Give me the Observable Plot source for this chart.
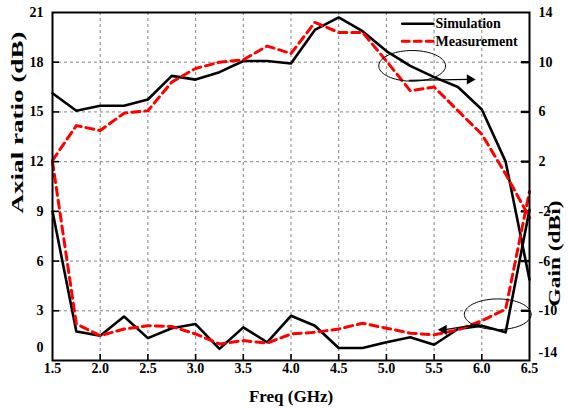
<!DOCTYPE html>
<html>
<head>
<meta charset="utf-8">
<script src="https://cdn.jsdelivr.net/npm/d3@7"></script>
<script src="https://cdn.jsdelivr.net/npm/@observablehq/plot@0.6"></script>
<style>
  html, body { margin: 0; padding: 0; background: #fff; }
  #chart { width: 568px; height: 408px; }
  #chart svg, #chart svg text { font-family: "Liberation Serif", "Times New Roman", serif !important; font-weight: bold; }
</style>
</head>
<body>
<div id="chart"></div>
<script>
// ---- data ----
const freq = [1.5, 1.75, 2.0, 2.25, 2.5, 2.75, 3.0, 3.25, 3.5, 3.75, 4.0, 4.25, 4.5, 4.75, 5.0, 5.25, 5.5, 5.75, 6.0, 6.25, 6.5];
const arSim = [9.0, 1.75, 1.5, 2.65, 1.35, 1.95, 2.2, 0.7, 2.0, 1.1, 2.7, 2.1, 0.75, 0.75, 1.1, 1.4, 0.95, 1.9, 2.1, 1.7, 9.1];
const arMeas = [12.0, 2.2, 1.5, 1.9, 2.1, 2.05, 1.6, 1.0, 1.2, 1.05, 1.6, 1.7, 1.9, 2.25, 1.95, 1.65, 1.55, 1.85, 2.4, 3.1, 10.2];
const gainSim = [7.5, 6.1, 6.5, 6.5, 7.0, 8.9, 8.6, 9.2, 10.1, 10.1, 9.9, 12.6, 13.6, 12.5, 10.9, 9.7, 8.8, 8.0, 6.2, 2.0, -7.5];
const gainMeas = [2.1, 4.9, 4.5, 5.9, 6.1, 8.4, 9.5, 10.0, 10.2, 11.3, 10.7, 13.2, 12.4, 12.4, 10.1, 7.7, 8.0, 6.1, 4.2, 1.0, -2.5];

const freqTicks = [1.5, 2.0, 2.5, 3.0, 3.5, 4.0, 4.5, 5.0, 5.5, 6.0, 6.5];
const arTicks = [0, 3, 6, 9, 12, 15, 18, 21];
const gainTicks = [-14, -10, -6, -2, 2, 6, 10, 14];
const seriesNames = ["Simulation", "Measurement"];
const xTitle = "Freq (GHz)";
const yTitle = "Axial ratio (dB)";
const y2Title = "Gain (dBi)";

// annotation ellipses (centre in data units) and arrows
const ellipseCenters = [{f: 5.27, ar: 17.78}, {f: 6.167, ar: 2.79}];
const ellipseRadius = {f: 0.35, ar: 0.925};
const arrowLinks = [
  {f1: 5.235, ar1: 16.9, f2: 5.874, ar2: 16.96, dir: 90},
  {f1: 5.986, ar1: 2.21, f2: 5.601, ar2: 1.85, dir: -90}
];

// ---- derived ----
const gainToAr = g => (g - gainTicks[0]) * (arTicks[arTicks.length - 1] - arTicks[0]) / (gainTicks[gainTicks.length - 1] - gainTicks[0]) + arTicks[0];
const rows = (ys, name, conv = v => v) => freq.map((f, i) => ({f, v: conv(ys[i]), name}));
const arSimRows = rows(arSim, "arSim");
const arMeasRows = rows(arMeas, "arMeas");
const gainSimRows = rows(gainSim, "gainSim", gainToAr);
const gainMeasRows = rows(gainMeas, "gainMeas", gainToAr);

const ellipsePts = [];
ellipseCenters.forEach((c, k) => {
  for (let j = 0; j <= 72; j++) {
    const t = (j / 72) * 2 * Math.PI;
    ellipsePts.push({k, f: c.f + ellipseRadius.f * Math.cos(t), ar: c.ar + ellipseRadius.ar * Math.sin(t)});
  }
});

const gainLabel = d => String(gainTicks[arTicks.indexOf(d)]);
const lineShape = {draw(context, l) { context.moveTo(0, 0); context.lineTo(0, -l); }};
const serif = "Liberation Serif";
const RED = "#ff0000";
const tf = {fontSize: 14, fontWeight: "bold", fontFamily: serif};

const chart = Plot.plot({
  width: 568,
  height: 408,
  marginLeft: 52,
  marginRight: 39,
  marginTop: 12,
  marginBottom: 48,
  style: {fontSize: "14px", color: "#000", background: "#fff", overflow: "visible"},
  x: {domain: [freqTicks[0], freqTicks[freqTicks.length - 1]]},
  y: {domain: [arTicks[0], arTicks[arTicks.length - 1]]},
  marks: [
    // grid
    Plot.gridX(freqTicks.slice(1, -1), {stroke: "#777", strokeOpacity: 1, strokeWidth: 0.9, strokeDasharray: "3,3"}),
    Plot.gridY(arTicks.slice(1, -1), {stroke: "#777", strokeOpacity: 1, strokeWidth: 0.9, strokeDasharray: "3,3"}),
    // inward ticks
    Plot.axisX(freqTicks.slice(1, -1), {tickSize: -6, strokeWidth: 1.6, fill: "none", label: null}),
    Plot.axisY(arTicks.slice(1, -1), {tickSize: -7, strokeWidth: 1.6, fill: "none", label: null}),
    Plot.axisY(arTicks.slice(1, -1), {anchor: "right", tickSize: -9, strokeWidth: 2.4, fill: "none", label: null}),
    // tick labels
    Plot.axisX(freqTicks, {tickSize: 0, tickPadding: 3, tickFormat: d => d.toFixed(1), ...tf, label: null}),
    Plot.axisY(arTicks.slice(1), {tickSize: 0, tickPadding: 9, tickFormat: d => String(d), ...tf, label: null}),
    Plot.axisY([arTicks[0]], {tickSize: 0, tickPadding: 9, dy: -13, tickFormat: d => String(d), ...tf, label: null}),
    Plot.axisY(arTicks.slice(1), {anchor: "right", tickSize: 0, tickPadding: 9, tickFormat: gainLabel, ...tf, label: null}),
    Plot.axisY([arTicks[0]], {anchor: "right", tickSize: 0, tickPadding: 9, dy: -8, tickFormat: gainLabel, ...tf, label: null}),
    // series
    Plot.line(gainSimRows, {x: "f", y: "v", stroke: "#000", strokeWidth: 2.6}),
    Plot.line(arSimRows, {x: "f", y: "v", stroke: "#000", strokeWidth: 2.6}),
    Plot.line(gainMeasRows, {x: "f", y: "v", stroke: RED, strokeWidth: 3, strokeDasharray: "8,5"}),
    Plot.line(arMeasRows, {x: "f", y: "v", stroke: RED, strokeWidth: 3, strokeDasharray: "8,5"}),
    // annotations
    Plot.line(ellipsePts, {x: "f", y: "ar", z: "k", stroke: "#000", strokeWidth: 1}),
    Plot.link(arrowLinks, {x1: "f1", y1: "ar1", x2: "f2", y2: "ar2", stroke: "#000", strokeWidth: 1.2}),
    Plot.dot(arrowLinks, {x: "f2", y: "ar2", symbol: "triangle", rotate: "dir", r: 3.8, fill: "#000", stroke: "none"}),
    // legend
    Plot.vector([0], {frameAnchor: "top-left", dx: 349.7, dy: 11.3, length: 31, rotate: 90, anchor: "start", shape: lineShape, stroke: "#000", strokeWidth: 2.6}),
    Plot.vector([0], {frameAnchor: "top-left", dx: 349.7, dy: 28.7, length: 31, rotate: 90, anchor: "start", shape: lineShape, stroke: RED, strokeWidth: 3, strokeDasharray: "7,5"}),
    Plot.text([seriesNames[0]], {frameAnchor: "top-left", dx: 383, dy: 11.3, text: d => d, textAnchor: "start", lineAnchor: "middle", fontSize: 14, fontWeight: "bold", fontFamily: serif}),
    Plot.text([seriesNames[1]], {frameAnchor: "top-left", dx: 383, dy: 28.7, text: d => d, textAnchor: "start", lineAnchor: "middle", fontSize: 14, fontWeight: "bold", fontFamily: serif}),
    // axis titles
    Plot.text([xTitle], {frameAnchor: "bottom", dy: 36, text: d => d, lineAnchor: "middle", fontSize: 17, fontWeight: "bold", fontFamily: serif}),
    Plot.text([yTitle], {frameAnchor: "left", dx: -34.5, dy: 27, rotate: -90, text: d => d, lineAnchor: "middle", fontSize: 17, fontWeight: "bold", fontFamily: serif}),
    Plot.text([y2Title], {frameAnchor: "right", dx: 25, dy: 14, rotate: -90, text: d => d, lineAnchor: "middle", fontSize: 17, fontWeight: "bold", fontFamily: serif}),
    // frame
    Plot.frame({stroke: "#000", strokeWidth: 2})
  ]
});

document.getElementById("chart").appendChild(chart);

// stretch axis titles to the reference's length
d3.select(chart).selectAll("text").each(function() {
  const t = this.textContent;
  if (t === yTitle) { this.setAttribute("textLength", 182); this.setAttribute("lengthAdjust", "spacingAndGlyphs"); }
  if (t === y2Title) { this.setAttribute("textLength", 106); this.setAttribute("lengthAdjust", "spacingAndGlyphs"); }
});
</script>
</body>
</html>
